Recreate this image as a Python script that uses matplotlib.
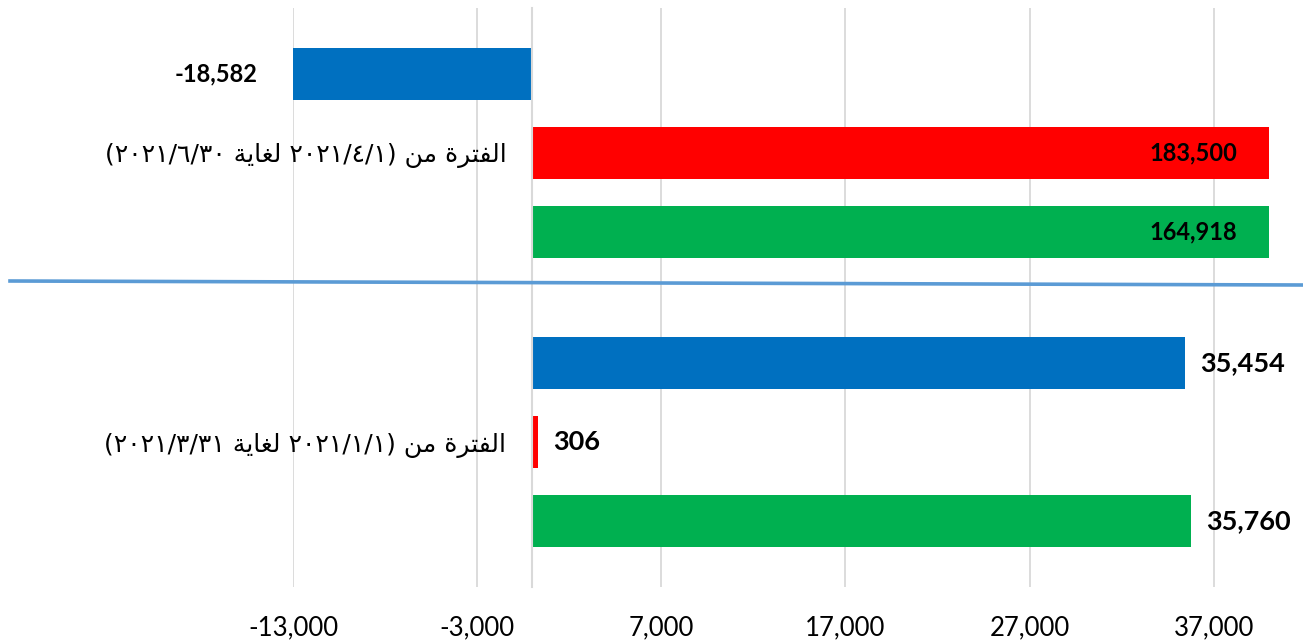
import matplotlib
matplotlib.use("Agg")
import matplotlib.pyplot as plt
from matplotlib.lines import Line2D

# arabic words in presentation forms, written in visual (left-to-right) order
# since matplotlib does no shaping / bidi on its own
word_period = "\uFE93\uFEAE\uFE98\uFED4\uFEDF\uFE8D"   # الفترة
word_from = "\uFEE6\uFEE3"                               # من
word_until = "\uFE94\uFEF3\uFE8E\uFED0\uFEDF"          # لغاية

def period_label(start, end):
    return "(" + end + " " + word_until + " " + start + ") " + word_from + " " + word_period

# categories, bottom to top
periods = [
    period_label("٢٠٢١/١/١", "٢٠٢١/٣/٣١"),
    period_label("٢٠٢١/٤/١", "٢٠٢١/٦/٣٠"),
]
green_vals = [35760, 164918]
red_vals = [306, 183500]
blue_vals = [35454, -18582]

x_min, x_max = -13000, 40000
tick_vals = [-13000, -3000, 7000, 17000, 27000, 37000]

W, H = 1303, 641
fig = plt.figure(figsize=(W / 100, H / 100), dpi=100)
ax = fig.add_axes([293 / W, 1 - 587 / H, (1269 - 293) / W, (587 - 8) / H])

# category axis sits at zero (set before the tick labels, it resets the ticks)
for s in ["top", "right", "bottom"]:
    ax.spines[s].set_visible(False)
ax.spines["left"].set_position(("data", 0))
ax.spines["left"].set_color("#D9D9D9")
ax.spines["left"].set_linewidth(1.5)
ax.spines["left"].set_zorder(4)

series = [
    (blue_vals, "#0070C0", 0.273),
    (red_vals, "#FF0000", 0.0),
    (green_vals, "#00B050", -0.273),
]
bar_h = 0.18
label_size = [19.5, 17]  # the labels of the lower period are set bigger
px = 72 / 100  # points per pixel

for vals, color, off in series:
    ys = [i + off for i in range(len(periods))]
    ax.barh(ys, vals, height=bar_h, color=color, zorder=3)
    for i, (y, v) in enumerate(zip(ys, vals)):
        if v > x_max:
            xpos, dx, ha = x_max, -32, "right"
        elif v < x_min:
            xpos, dx, ha = x_min, -35, "right"
        else:
            xpos, dx, ha = v, 15, "left"
        ax.annotate(f"{v:,}", (xpos, y), xytext=(dx * px, 0), textcoords="offset points",
                    ha=ha, va="center", fontsize=label_size[i], fontweight="bold",
                    family="Lato", annotation_clip=False, zorder=5)

ax.set_xlim(x_min, x_max)
ax.set_ylim(-0.5, 1.5)
ax.set_xticks(tick_vals)
ax.set_xticklabels([f"{t:,}" for t in tick_vals], family="Lato", fontsize=18.5)
ax.tick_params(axis="x", length=0, pad=28 * px)
ax.grid(axis="x", color="#D9D9D9", lw=1.3, zorder=0)

ax.set_yticks(range(len(periods)))
ax.set_yticklabels(periods, family="DejaVu Sans", fontsize=18)
ax.tick_params(axis="y", length=0, pad=26 * px)

# blue separator line drawn across the chart
fig.add_artist(Line2D([10 / W, 1.0], [1 - 281 / H, 1 - 285 / H], color="#5B9BD5", lw=2.6))

fig.savefig("out.png", dpi=100)
